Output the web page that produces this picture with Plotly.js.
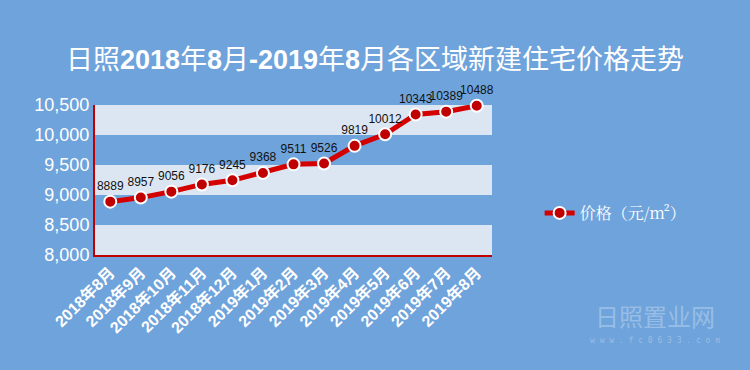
<!DOCTYPE html>
<html><head><meta charset="utf-8">
<script src="https://cdn.plot.ly/plotly-3.0.1.min.js"></script>
<style>html,body{margin:0;padding:0;background:#6fa3db;}</style>
</head><body><div id="chart" style="width:750px;height:370px;"></div>
<script>
const months = ["2018年8月","2018年9月","2018年10月","2018年11月","2018年12月","2019年1月","2019年2月","2019年3月","2019年4月","2019年5月","2019年6月","2019年7月","2019年8月"];
const prices = [8889,8957,9056,9176,9245,9368,9511,9526,9819,10012,10343,10389,10488];
const seriesName = "价格（元/m²）";
const titleText = "日照<b>2018</b>年<b>8</b>月<b>-2019</b>年<b>8</b>月各区域新建住宅价格走势";

const bg = "#6fa3db", light = "#dce6f2";
const trace = {
  x: months, y: prices, name: seriesName, type: "scatter", mode: "lines+markers+text",
  text: prices.map(String), textposition: "top center",
  textfont: {family: "Liberation Sans, Arial", size: 12, color: "#111"},
  line: {color: "#d40000", width: 5},
  marker: {size: 12, color: "#c00000", line: {color: "#ffffff", width: 2}},
  cliponaxis: false
};
const layout = {
  width: 750, height: 370,
  paper_bgcolor: bg, plot_bgcolor: light,
  margin: {l: 95, r: 258, t: 105, b: 115},
  title: {text: titleText, x: 0.5, xanchor: "center", y: 0.84, yanchor: "middle",
    font: {family: "Liberation Sans, Noto Sans CJK SC", size: 27, color: "#ffffff"}},
  xaxis: {type: "category", range: [-0.5, months.length - 0.5], showgrid: false,
    showline: true, linecolor: "#c00000", linewidth: 2, ticks: "", tickangle: -45,
    tickfont: {family: "Liberation Sans, Noto Sans CJK SC", size: 16, color: "#ffffff", weight: "bold"}},
  yaxis: {range: [8000, 10500], dtick: 500, tickformat: ",d", showgrid: false, zeroline: false,
    showline: true, linecolor: "#c00000", linewidth: 2, ticks: "",
    tickfont: {family: "Liberation Sans, Arial", size: 18, color: "#ffffff"}},
  shapes: [
    {type: "rect", xref: "paper", yref: "y", x0: 0, x1: 1, y0: 8500, y1: 9000, fillcolor: bg, line: {width: 0}, layer: "below"},
    {type: "rect", xref: "paper", yref: "y", x0: 0, x1: 1, y0: 9500, y1: 10000, fillcolor: bg, line: {width: 0}, layer: "below"}
  ],
  showlegend: true,
  legend: {x: 1.12, y: 0.28, xanchor: "left", yanchor: "middle", bgcolor: "rgba(0,0,0,0)",
    font: {family: "Noto Serif CJK SC, Noto Sans CJK SC", size: 16, color: "#ffffff"}},
  annotations: [
    {xref: "paper", yref: "paper", x: 1.41, y: -0.40, xanchor: "center", yanchor: "middle", showarrow: false,
      text: "日照置业网", font: {family: "Noto Sans CJK SC", size: 24, color: "rgba(255,255,255,0.3)"}},
    {xref: "paper", yref: "paper", x: 1.41, y: -0.57, xanchor: "center", yanchor: "middle", showarrow: false,
      text: "w w w . f c 0 6 3 3 . c o m", font: {family: "DejaVu Sans Mono", size: 8, color: "rgba(255,255,255,0.3)"}}
  ]
};
Plotly.newPlot("chart", [trace], layout, {displayModeBar: false, staticPlot: true});
</script></body></html>
